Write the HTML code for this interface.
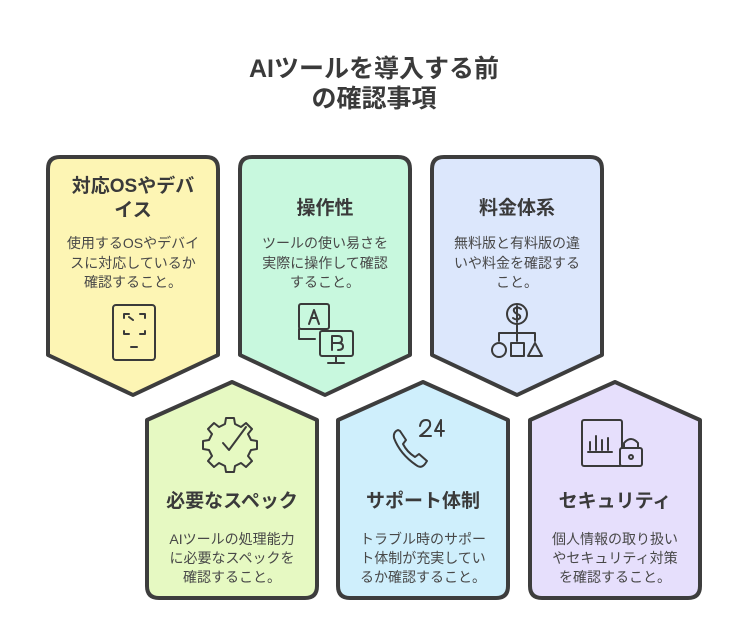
<!DOCTYPE html>
<html><head><meta charset="utf-8"><style>
body{margin:0;background:#fff;width:748px;height:636px;overflow:hidden}
svg text{font-family:"Liberation Sans","Noto Sans CJK JP",sans-serif;fill:#3a3a3a;text-anchor:middle}
.t{font-size:19px;font-weight:bold}
.b{font-size:14px;fill:#484848}
.ic{fill:none;stroke:#3a3a3a;stroke-width:2;stroke-linecap:round;stroke-linejoin:round}
.c{stroke:#3d3d3d;stroke-width:4;stroke-linejoin:round}
</style></head><body>
<svg width="748" height="636" viewBox="0 0 748 636">
<text class="t" x="374" y="77" style="font-size:25px">AIツールを導入する前</text>
<text class="t" x="374" y="107" style="font-size:25px">の確認事項</text>

<path class="c" fill="#fdf5b4" d="M60,157 H206 Q218,157 218,169 V355 L133,395 L48,355 V169 Q48,157 60,157Z"/>
<path class="c" fill="#c8f8de" d="M252,157 H398 Q410,157 410,169 V355 L325,395 L240,355 V169 Q240,157 252,157Z"/>
<path class="c" fill="#dce7fc" d="M444,157 H590 Q602,157 602,169 V355 L517,395 L432,355 V169 Q432,157 444,157Z"/>
<path class="c" fill="#e6f9c2" d="M232,382 L317,420 V586 Q317,598 305,598 H159 Q147,598 147,586 V420Z"/>
<path class="c" fill="#cfeffc" d="M423,382 L508,420 V586 Q508,598 496,598 H350 Q338,598 338,586 V420Z"/>
<path class="c" fill="#e6dffc" d="M615,382 L700,420 V586 Q700,598 688,598 H542 Q530,598 530,586 V420Z"/>

<text class="t" x="133" y="192">対応OSやデバ</text>
<text class="t" x="133" y="216">イス</text>
<text class="b" x="133" y="248">使用するOSやデバイ</text>
<text class="b" x="133" y="268">スに対応しているか</text>
<text class="b" x="133" y="287">確認すること。</text>

<text class="t" x="325" y="214">操作性</text>
<text class="b" x="325" y="248">ツールの使い易さを</text>
<text class="b" x="325" y="268">実際に操作して確認</text>
<text class="b" x="325" y="287">すること。</text>

<text class="t" x="517" y="214">料金体系</text>
<text class="b" x="517" y="248">無料版と有料版の違</text>
<text class="b" x="517" y="268">いや料金を確認する</text>
<text class="b" x="517" y="287">こと。</text>

<text class="t" x="232" y="507">必要なスペック</text>
<text class="b" x="232" y="544">AIツールの処理能力</text>
<text class="b" x="232" y="563">に必要なスペックを</text>
<text class="b" x="232" y="582">確認すること。</text>

<text class="t" x="423" y="507">サポート体制</text>
<text class="b" x="423" y="544">トラブル時のサポー</text>
<text class="b" x="423" y="563">ト体制が充実してい</text>
<text class="b" x="423" y="582">るか確認すること。</text>

<text class="t" x="615" y="507">セキュリティ</text>
<text class="b" x="615" y="544">個人情報の取り扱い</text>
<text class="b" x="615" y="563">やセキュリティ対策</text>
<text class="b" x="615" y="582">を確認すること。</text>

<g class="ic">
<rect x="113" y="305" width="42" height="55" rx="3"/>
<path d="M124,318v-4h5M140,314h5v4M124,331v3h5M140,334h5v-3M129,317l4,3M131,347h6"/>
<rect x="299" y="304" width="30" height="25" rx="2"/>
<path d="M299,329v10h16"/>
<rect x="320" y="331" width="33" height="25" rx="2"/>
<path d="M336,356v7M328,363h16"/>
<path d="M309,324l5,-14l5,14M311,318h6"/>
<path d="M332,350v-14h6q4,0 4,3.5q0,3.5-4,3.5h-6M338,343q5,0 5,3.5q0,3.5-5,3.5"/>
<circle cx="517" cy="314" r="10"/>
<path d="M521,309q-4,-3-7,0q-1,3 3,5q4,1 3,4q-3,3-7,0M517,306v16"/>
<path d="M517,324v9M499,333h36M499,333v8M517,333v8M535,333v8"/>
<circle cx="499" cy="350" r="7"/>
<rect x="511" y="343" width="13" height="13"/>
<path d="M535,343l7,13h-14z"/>
<circle cx="230" cy="443" r="11"/>
<path d="M226,418h8l1,6l6,3l5-4l6,6l-4,5l3,6l6,1v8l-6,1l-3,6l4,5l-6,6l-5-4l-6,3l-1,6h-8l-1-6l-6-3l-5,4l-6-6l4-5l-3-6l-6-1v-8l6-1l3-6l-4-5l6-6l5,4l6-3z" fill="#e6f9c2"/>
<path d="M223,443l6,7l17,-23"/>
<path d="M398,430q-5,2-4,8q6,16 22,27q5,4 9,-1l2-3l-8-7l-4,3q-8-5-12-13l3-4l-6-9z"/>
<path d="M420,426q1-6 6-6q5,0 4,6q-2,4-10,10h11M441,420l-6,11h9M441,420v16"/>
<rect x="582" y="420" width="40" height="46" rx="2"/>
<path d="M590,450v-8M596,450v-14M602,450v-10M608,450v-12M588,452h24"/>
<rect x="620" y="448" width="22" height="18" rx="2" fill="#e6dffc"/>
<path d="M624,448v-5q7-8 14,0v5"/>
<circle cx="631" cy="457" r="2"/>
</g>
</svg>
</body></html>
